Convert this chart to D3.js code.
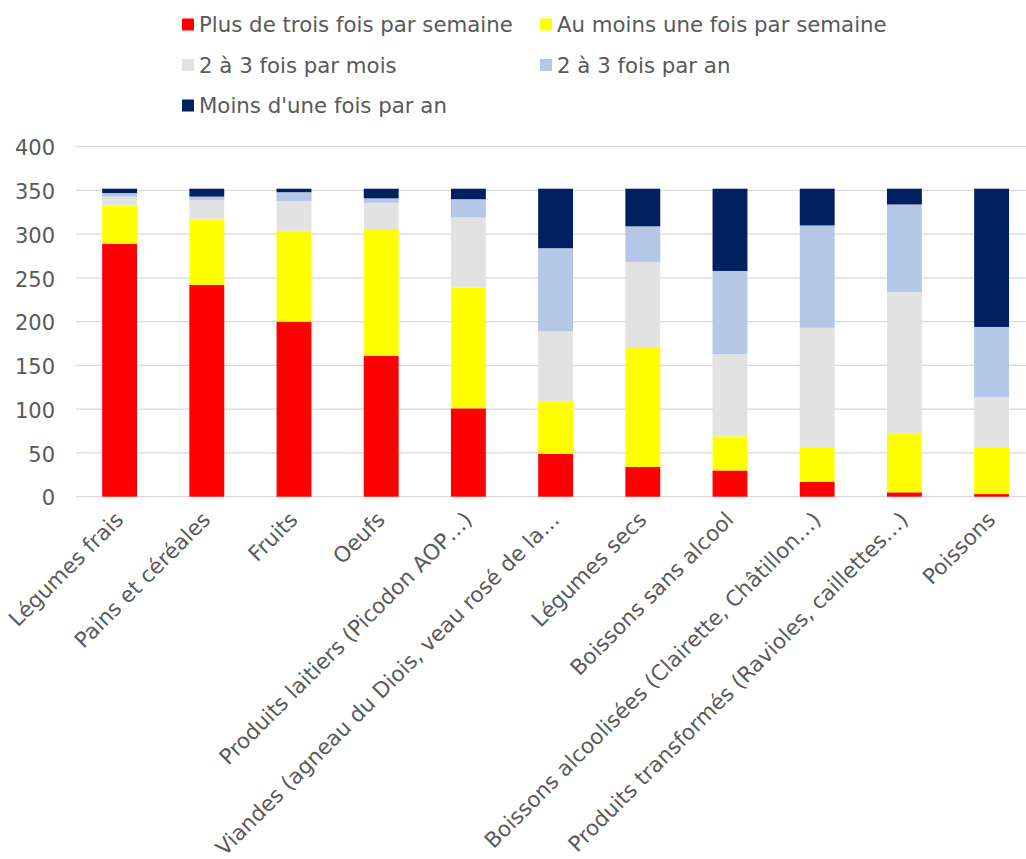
<!DOCTYPE html>
<html>
<head>
<meta charset="utf-8">
<script src="https://cdn.jsdelivr.net/npm/d3@7"></script>
<style>
  html, body { margin: 0; padding: 0; background: #ffffff; }
  svg { display: block; }
  text { font-family: "DejaVu Sans", Verdana, sans-serif; fill: #595959; }
</style>
</head>
<body>
<svg id="chart" width="1026" height="859"></svg>
<script>
const categories = [
  "Légumes frais",
  "Pains et céréales",
  "Fruits",
  "Oeufs",
  "Produits laitiers (Picodon AOP…)",
  "Viandes (agneau du Diois, veau rosé de la…",
  "Légumes secs",
  "Boissons sans alcool",
  "Boissons alcoolisées (Clairette, Châtillon…)",
  "Produits transformés (Ravioles, caillettes…)",
  "Poissons"
];
const seriesNames = [
  "Plus de trois fois par semaine",
  "Au moins une fois par semaine",
  "2 à 3 fois par mois",
  "2 à 3 fois par an",
  "Moins d'une fois par an"
];
const plusTrois     = [289, 242, 200, 161, 101, 49, 34, 30, 17, 5, 3];
const auMoinsUne    = [44, 75, 104, 145, 138, 60, 136, 39, 40, 67, 54];
const deuxTroisMois = [10, 22, 34, 30, 80, 80, 98, 94, 136, 162, 57];
const deuxTroisAn   = [4, 4, 10, 5, 21, 95, 41, 95, 117, 100, 80];
const moinsUne      = [5, 9, 4, 11, 12, 68, 43, 94, 42, 18, 158];
const yTicks = [0, 50, 100, 150, 200, 250, 300, 350, 400];
const colors = ["#FF0000", "#FFFF00", "#E2E2E2", "#B4C7E7", "#002060"];

const seriesValues = [plusTrois, auMoinsUne, deuxTroisMois, deuxTroisAn, moinsUne];
const keys = ["s0", "s1", "s2", "s3", "s4"];
const table = categories.map((c, i) => {
  const row = { cat: c };
  keys.forEach((k, j) => row[k] = seriesValues[j][i]);
  return row;
});

const svg = d3.select("#chart");
const x = d3.scaleBand().domain(categories).range([76, 1035.2]).paddingInner(0.6).paddingOuter(0.3);
const y = d3.scaleLinear().domain([0, 400]).range([496.7, 146.7]);

// gridlines
svg.append("g").selectAll("line").data(yTicks).join("line")
  .attr("x1", 76).attr("x2", 1035)
  .attr("y1", d => y(d)).attr("y2", d => y(d))
  .attr("stroke", "#D9D9D9").attr("stroke-width", 1.3);

// y tick labels
svg.append("g").selectAll("text").data(yTicks).join("text")
  .attr("x", 55).attr("y", d => y(d) + 8.7)
  .attr("text-anchor", "end")
  .attr("font-size", 21)
  .text(d => d);

// stacked bars
const stack = d3.stack().keys(keys)(table);
svg.append("g").selectAll("g").data(stack).join("g")
  .attr("fill", (d, i) => colors[i])
  .selectAll("rect").data(d => d).join("rect")
  .attr("x", d => x(d.data.cat))
  .attr("width", x.bandwidth())
  .attr("y", d => y(d[1]))
  .attr("height", d => y(d[0]) - y(d[1]));

// x labels
svg.append("g").selectAll("text").data(categories).join("text")
  .attr("transform", d => `translate(${x(d) + x.bandwidth() / 2 + 5},521) rotate(-45)`)
  .attr("text-anchor", "end")
  .attr("font-size", 21.5)
  .text(d => d);

// legend
const legendPos = [
  { sx: 182, base: 32 },
  { sx: 540, base: 32 },
  { sx: 182, base: 72.5 },
  { sx: 540, base: 72.5 },
  { sx: 182, base: 113 }
];
const lg = svg.append("g").selectAll("g").data(seriesNames).join("g");
lg.append("rect")
  .attr("x", (d, i) => legendPos[i].sx)
  .attr("y", (d, i) => legendPos[i].base - 13.5)
  .attr("width", 12).attr("height", 12)
  .attr("fill", (d, i) => colors[i]);
lg.append("text")
  .attr("x", (d, i) => legendPos[i].sx + 17)
  .attr("y", (d, i) => legendPos[i].base)
  .attr("font-size", 21.3)
  .text(d => d);
</script>
</body>
</html>
